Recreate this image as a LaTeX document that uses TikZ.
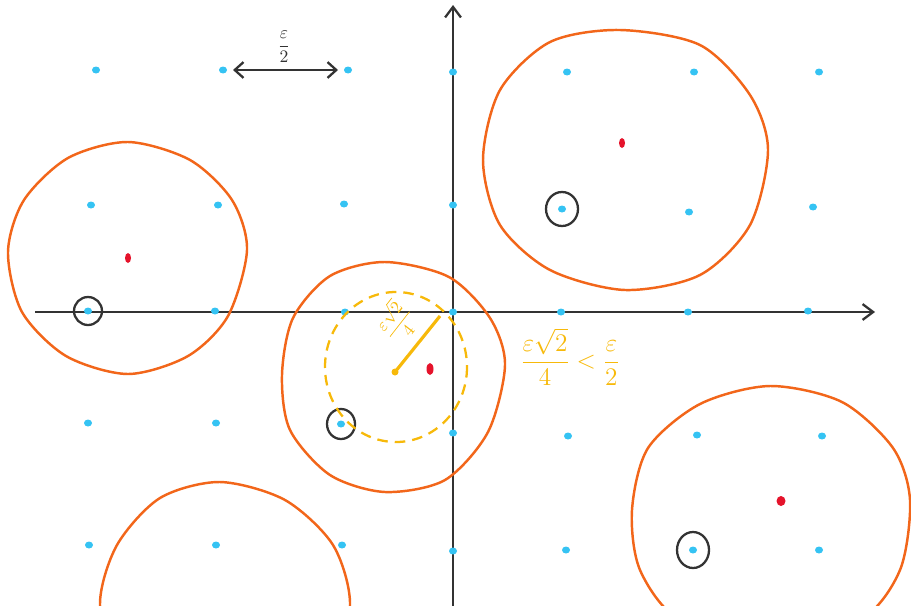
\documentclass[tikz,border=0pt]{standalone}
\usepackage{amsmath,amssymb}
\usepackage{xcolor}
\usetikzlibrary{arrows.meta}

\definecolor{gridcyan}{HTML}{35C3F3}
\definecolor{centred}{HTML}{E5132B}
\definecolor{ballorange}{HTML}{F2661A}
\definecolor{radyellow}{HTML}{F7B90A}
\definecolor{axisgray}{HTML}{333333}

\begin{document}
\begin{tikzpicture}[x=0.02cm, y=-0.02cm,
  axis/.style={line width=1.3pt, draw=axisgray, -{Straight Barb[length=6pt,width=9pt]}},
  ball/.style={line width=1.4pt, draw=ballorange, line join=round},
  ring/.style={line width=1.3pt, draw=axisgray},
  griddot/.style={fill=gridcyan},
  centdot/.style={fill=centred},
  yell/.style={text=radyellow}]
  \clip (0,0) rectangle (911,605);

  % Axes
  \coordinate (xl) at (35,312);
  \coordinate (xr) at (875,312);
  \coordinate (yb) at (453,610);
  \coordinate (yt) at (453,5);
  \draw[axis] (xl) -- (xr);
  \draw[axis] (yb) -- (yt);

  % Grid of points
  \foreach \x/\y [count=\i] in {96/70, 223/70, 348/70, 453/72, 567/72, 694/72, 819/72,
      91/205, 218/205, 344/204, 453/205, 562/209, 689/212, 813/207,
      88/311, 215/311, 345/312, 453/312, 561/312, 688/312, 808/311,
      88/423, 216/423, 341/424, 453/433, 568/436, 697/435, 822/436,
      89/545, 216/545, 342/545, 453/551, 566/550, 693/550, 819/550}
    \fill[griddot] (\x,\y) coordinate (g\i) ellipse (4 and 3.5);

  % Centres
  \fill[centdot] (128,258) coordinate (c1) ellipse (3 and 5);
  \fill[centdot] (622,143) coordinate (c2) ellipse (3 and 5);
  \fill[centdot] (430,369) coordinate (c3) ellipse (3.5 and 6);
  \fill[centdot] (781,501) coordinate (c4) ellipse (4.5 and 5);

  % Balls
  \draw[ball] plot[smooth cycle] coordinates {(247,250) (232,200) (190,160) (128,142) (68,158)
      (24,200) (8,252) (22,312) (66,356) (128,374) (188,356) (228,316)};
  \draw[ball] plot[smooth cycle] coordinates {(505,365) (490,318) (449,277) (385,262) (330,276)
      (293,318) (282,375) (290,430) (330,475) (385,492) (445,480) (488,432)};
  \draw[ball] plot[smooth cycle] coordinates {(768,150) (750,95) (700,45) (620,30) (550,42)
      (500,90) (483,160) (500,225) (550,270) (625,290) (700,275) (750,225)};
  \draw[ball] plot[smooth cycle] coordinates {(910,500) (893,448) (842,402) (770,386) (700,404)
      (648,448) (632,510) (640,570) (680,620) (770,640) (860,620) (900,570)};
  \draw[ball] plot[smooth cycle] coordinates {(350,605) (333,545) (285,500) (220,482) (160,498)
      (117,545) (100,605) (120,670) (225,728) (330,670)};

  % Marked points
  \draw[ring] (g15) ellipse (14 and 14);
  \draw[ring] (g12) ellipse (16 and 17);
  \draw[ring] (g24) ellipse (14 and 15);
  \draw[ring] (g34) ellipse (16 and 18);

  % Spacing
  \coordinate (ha) at (233,70);
  \coordinate (hb) at (338,70);
  \draw[line width=1.3pt, draw=axisgray, {Straight Barb[length=5pt,width=9pt]}-{Straight Barb[length=5pt,width=9pt]}] (ha) -- (hb);
  \node[text=axisgray] (hlab) at (284,47) {$\dfrac{\varepsilon}{2}$};

  % Small ball and its radius
  \draw[radyellow, line width=1.3pt, dash pattern=on 6pt off 4pt] (396,367) ellipse (71 and 75);
  \coordinate (r0) at (395,372);
  \coordinate (r1) at (440,316);
  \fill[radyellow] (r0) circle (3.5);
  \draw[radyellow, line width=1.8pt] (r0) -- (r1);
  \node[yell, rotate=52, inner sep=0pt] (rlab) at (397,322) {$\dfrac{\varepsilon\sqrt{2}}{4}$};
  \node[yell] (ineq) at (570,357) {\Large$\dfrac{\varepsilon\sqrt{2}}{4}<\dfrac{\varepsilon}{2}$};
\end{tikzpicture}
\end{document}
